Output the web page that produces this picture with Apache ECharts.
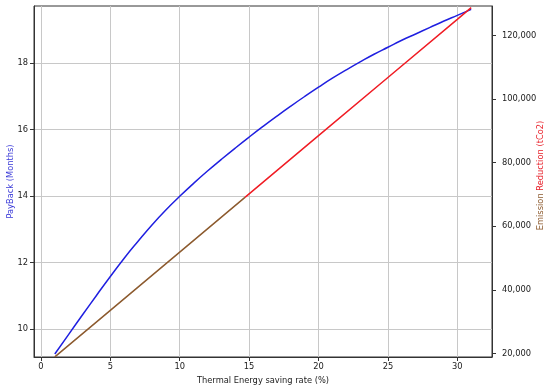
<!DOCTYPE html>
<html>
<head>
<meta charset="utf-8">
<script src="https://cdn.jsdelivr.net/npm/echarts@6/dist/echarts.min.js"></script>
<style>html,body{margin:0;padding:0;background:#fff}#c{width:550px;height:391px}</style>
</head>
<body>
<div id="c"></div>
<script>
// Data
var savingRate = [1,2,3,4,5,6,7,8,9,10,11,12,13,14,15,16,17,18,19,20,21,22,23,24,25,26,27,28,29,30,31];
var payback = [9.25,9.84,10.43,11.01,11.58,12.13,12.64,13.13,13.58,13.99,14.38,14.75,15.10,15.44,15.77,16.09,16.40,16.70,16.99,17.27,17.54,17.79,18.03,18.26,18.47,18.68,18.87,19.06,19.25,19.43,19.61];
var emissionLowX = [1, 5, 10, 14.7];
var emissionLow = [18900, 33550, 51870, 69100];
var emissionHighX = [14.7, 20, 25, 30, 31];
var emissionHigh = [69100, 88500, 106800, 125100, 128800];
var xTicks = [0, 5, 10, 15, 20, 25, 30];
var leftTicks = [10, 12, 14, 16, 18];
var rightTicks = [20000, 40000, 60000, 80000, 100000, 120000];

function pairs(xs, ys){ return xs.map(function(x,i){ return [x, ys[i]]; }); }
var FONT = 'DejaVu Sans';
var FS = 8.3;
var chart = echarts.init(document.getElementById('c'), null, {renderer:'canvas'});
chart.setOption({
  animation: false,
  backgroundColor: '#fff',
  textStyle: {fontFamily: FONT},
  grid: {left: 34, right: 58, top: 6, bottom: 34, containLabel: false, outerBoundsMode: 'none',
    show: true, borderColor: '#333', borderWidth: 1, backgroundColor: 'transparent'},
  xAxis: {
    type: 'value', min: -0.5, max: 32.5,
    name: 'Thermal Energy saving rate (%)', nameLocation: 'middle', nameGap: 20, nameMoveOverlap: false,
    nameTextStyle: {fontFamily: FONT, fontSize: FS, color: '#222'},
    axisLine: {show: true, onZero: false, lineStyle: {color: '#333'}},
    axisTick: {show: true, customValues: xTicks, length: 4, lineStyle: {color: '#333'}},
    axisLabel: {customValues: xTicks, fontFamily: FONT, fontSize: FS, color: '#222', margin: 6},
    splitLine: {show: true, lineStyle: {color: '#c8c8c8', width: 1}}
  },
  yAxis: [{
    type: 'value', position: 'left', min: 9.16, max: 19.71,
    name: 'PayBack (Months)', nameLocation: 'middle', nameGap: 19, nameRotate: 90, nameMoveOverlap: false,
    nameTextStyle: {fontFamily: FONT, fontSize: FS, color: '#3a3ad8'},
    axisLine: {show: true, onZero: false, lineStyle: {color: '#333'}},
    axisTick: {show: true, customValues: leftTicks, length: 4, lineStyle: {color: '#333'}},
    axisLabel: {customValues: leftTicks, fontFamily: FONT, fontSize: FS, color: '#222', margin: 6},
    splitLine: {show: true, lineStyle: {color: '#c8c8c8', width: 1}}
  }, {
    type: 'value', position: 'right', min: 18870, max: 129300,
    name: '{a|Emission }{b|Reduction (tCo2)}', nameLocation: 'middle', nameGap: 45, nameRotate: 90, nameMoveOverlap: false,
    nameTextStyle: {fontFamily: FONT, fontSize: FS, padding: [0, 0, 0, 12], rich: {
      a: {fontFamily: FONT, fontSize: FS, color: '#8c5a2e'},
      b: {fontFamily: FONT, fontSize: FS, color: '#e8202a'}
    }},
    axisLine: {show: true, onZero: false, lineStyle: {color: '#333'}},
    axisTick: {show: true, customValues: rightTicks, length: 4, lineStyle: {color: '#333'}},
    axisLabel: {customValues: rightTicks, fontFamily: FONT, fontSize: FS, color: '#222', margin: 10,
      formatter: function(v){ return Math.round(v).toLocaleString('en-US'); }},
    splitLine: {show: false}
  }],
  series: [{
    type: 'line', yAxisIndex: 0, data: pairs(savingRate, payback), smooth: true,
    showSymbol: false, lineStyle: {color: '#1f1fe0', width: 1.5}
  }, {
    type: 'line', yAxisIndex: 1, data: pairs(emissionHighX, emissionHigh),
    showSymbol: false, lineStyle: {color: '#f01c24', width: 1.5}
  }, {
    type: 'line', yAxisIndex: 1, data: pairs(emissionLowX, emissionLow),
    showSymbol: false, lineStyle: {color: '#8c5a2e', width: 1.5}
  }]
});
</script>
</body>
</html>
